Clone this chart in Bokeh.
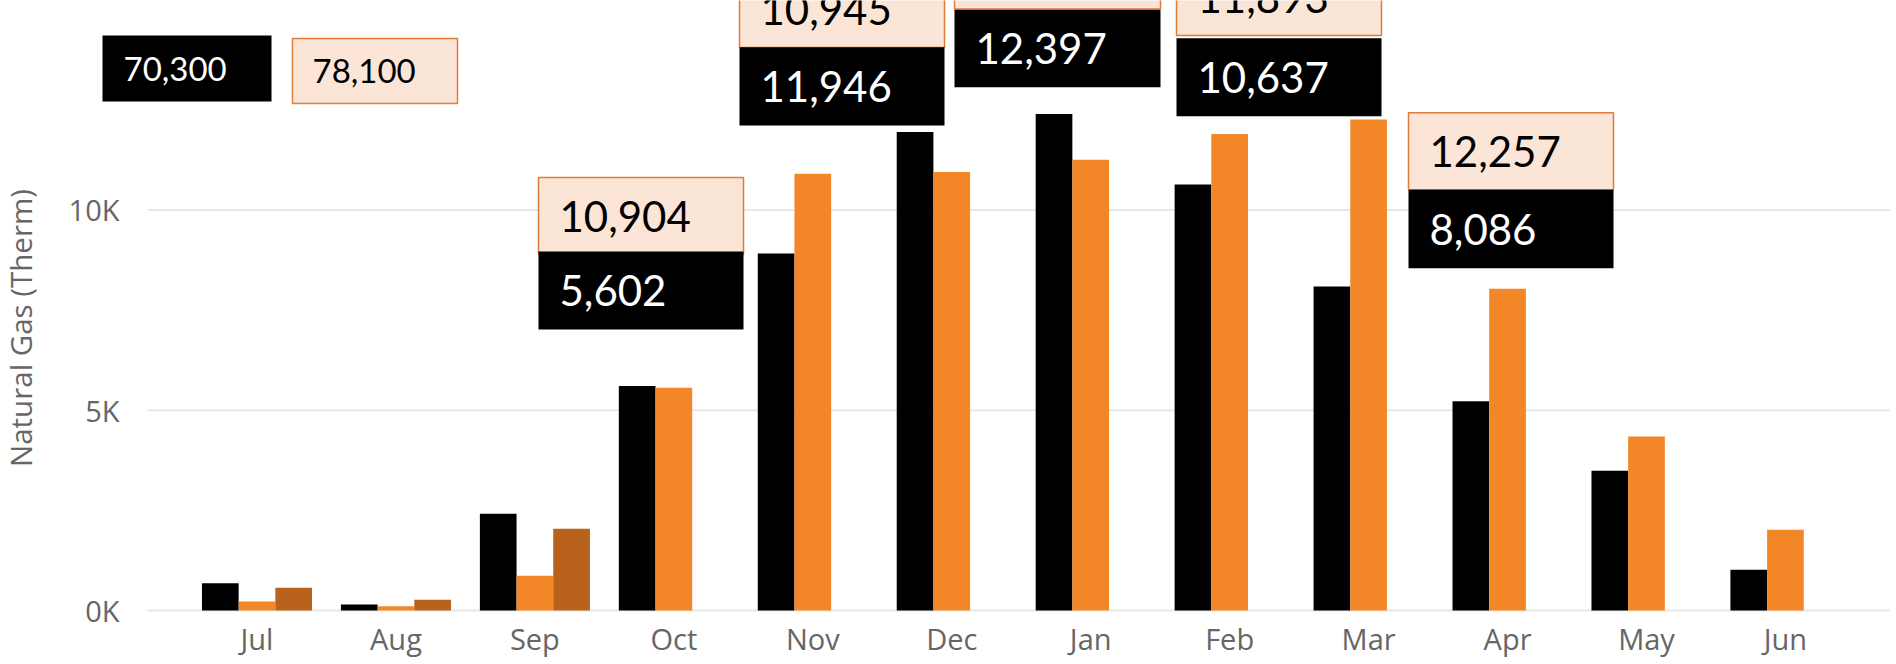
import math
from bokeh.plotting import figure
from bokeh.models import ColumnDataSource, Range1d, FixedTicker
from bokeh.transform import dodge
from bokeh.core.properties import value
from bokeh.embed import file_html
from bokeh.resources import INLINE

# ---------------- data ----------------
months = ["Jul", "Aug", "Sep", "Oct", "Nov", "Dec", "Jan", "Feb", "Mar", "Apr", "May", "Jun"]
series_black = [682, 150, 2413, 5602, 8911, 11946, 12397, 10637, 8086, 5225, 3487, 1016]
series_orange = [225, 108, 866, 5559, 10904, 10945, 11250, 11893, 12257, 8030, 4343, 2014]
series_brown = [566, 267, 2039, 0, 0, 0, 0, 0, 0, 0, 0, 0]
y_ticks = [0, 5000, 10000]
y_tick_labels = ["0K", "5K", "10K"]
y_title = "Natural Gas (Therm)"
total_black = "70,300"
total_orange = "78,100"
callout_top = ["10,904", "10,945", "", "11,893", "12,257"]
callout_bottom = ["5,602", "11,946", "12,397", "10,637", "8,086"]

# ---------------- style / layout ----------------
C_BLACK = "#000000"
C_ORANGE = "#F38627"
C_BROWN = "#B8621B"
C_PEACH = "#FBE5D6"
C_PEACH_LINE = "#E07B3A"
C_TICK = "#666666"
C_GRID = "#E8E8E8"

FIG_W, FIG_H = 1890, 662
BASE_Y = 610                         # page y of the zero line (frame spans the whole figure)
CAT0, CAT_STEP = 256.5, 138.95       # page x of first category centre, category spacing
PX_PER_UNIT = 0.04006                # vertical px per therm


def X(px):
    return (px - CAT0) / CAT_STEP


def Y(py):
    return (BASE_Y - py) / PX_PER_UNIT


XS, XE = X(0), X(FIG_W)
YB, YT = Y(FIG_H), Y(0)
BAR_W = 0.264

p = figure(width=FIG_W, height=FIG_H, x_range=Range1d(XS, XE), y_range=Range1d(YB, YT),
           output_backend="svg", toolbar_location=None,
           min_border_left=0, min_border_right=0, min_border_top=0, min_border_bottom=0)
p.outline_line_color = None
p.background_fill_color = "white"
p.border_fill_color = "white"
p.xgrid.grid_line_color = None
p.ygrid.grid_line_color = None

p.yaxis.ticker = FixedTicker(ticks=y_ticks, minor_ticks=[])
p.yaxis.major_label_overrides = {t: l for t, l in zip(y_ticks, y_tick_labels)}
p.yaxis.fixed_location = X(147)
p.xaxis.ticker = FixedTicker(ticks=list(range(len(months))), minor_ticks=[])
p.xaxis.major_label_overrides = {i: m for i, m in enumerate(months)}
p.xaxis.fixed_location = 0
for ax in (p.xaxis, p.yaxis):
    ax.axis_line_color = None
    ax.major_tick_line_color = None
    ax.minor_tick_line_color = None
    ax.major_tick_out = 0
    ax.major_tick_in = 0
    ax.major_label_text_font = "Open Sans"
    ax.major_label_text_font_size = "29px"
    ax.major_label_text_color = C_TICK
p.yaxis.major_label_standoff = 28
p.xaxis.major_label_standoff = 8

# y-axis title (rotated text)
p.text(x=[X(20)], y=[Y(327.5)], text=[y_title], angle=math.pi / 2,
       text_font=value("Open Sans"), text_font_size="29.5px", text_color=C_TICK,
       text_align="center", text_baseline="middle")

# horizontal grid lines at the y ticks, starting right of the tick labels
p.segment(x0=X(147), x1=XE, y0=y_ticks, y1=y_ticks, line_color=C_GRID, line_width=2)

src = ColumnDataSource(dict(x=[i for i, _ in enumerate(months)], black=series_black,
                            orange=series_orange, brown=series_brown))
p.vbar(x=dodge("x", -BAR_W, range=p.x_range), top="black", width=BAR_W, source=src,
       fill_color=C_BLACK, line_color=None)
p.vbar(x=dodge("x", 0, range=p.x_range), top="orange", width=BAR_W, source=src,
       fill_color=C_ORANGE, line_color=None)
p.vbar(x=dodge("x", BAR_W, range=p.x_range), top="brown", width=BAR_W, source=src,
       fill_color=C_BROWN, line_color=None)

# ---------------- callout boxes (page-pixel layout) ----------------
pair_layout = [  # left, right, peach top, peach bottom, black top, black bottom
    (538, 743, 177, 254, 251, 329),
    (739, 944, -30, 47, 46.7, 125),
    (954, 1160, -69, 8.5, 9.3, 86.7),
    (1176, 1381, -42, 35, 37.7, 115.7),
    (1408, 1613, 112.3, 189.3, 189.3, 267.7),
]
pk = dict(left=[], right=[], top=[], bottom=[])
bk = dict(left=[], right=[], top=[], bottom=[])
tt = dict(x=[], y=[], text=[], size=[])
bt = dict(x=[], y=[], text=[], size=[])
for (L, R, pt, pb, btp, bbt), top_txt, bot_txt in zip(pair_layout, callout_top, callout_bottom):
    pk["left"].append(X(L)); pk["right"].append(X(R)); pk["top"].append(Y(pt)); pk["bottom"].append(Y(pb))
    bk["left"].append(X(L)); bk["right"].append(X(R)); bk["top"].append(Y(btp)); bk["bottom"].append(Y(bbt))
    tt["x"].append(X(L + 21)); tt["y"].append(Y((pt + pb) / 2)); tt["text"].append(top_txt); tt["size"].append("42px")
    bt["x"].append(X(L + 21)); bt["y"].append(Y((btp + bbt) / 2)); bt["text"].append(bot_txt); bt["size"].append("42px")

# the two total boxes
bk["left"].append(X(102)); bk["right"].append(X(271)); bk["top"].append(Y(35)); bk["bottom"].append(Y(101))
bt["x"].append(X(123)); bt["y"].append(Y(68)); bt["text"].append(total_black); bt["size"].append("33px")
pk["left"].append(X(292)); pk["right"].append(X(457)); pk["top"].append(Y(38)); pk["bottom"].append(Y(103))
tt["x"].append(X(312)); tt["y"].append(Y(70.5)); tt["text"].append(total_orange); tt["size"].append("33px")

p.quad(source=ColumnDataSource(pk), left="left", right="right", top="top", bottom="bottom",
       fill_color=C_PEACH, line_color=C_PEACH_LINE, line_width=1.5)
p.quad(source=ColumnDataSource(bk), left="left", right="right", top="top", bottom="bottom",
       fill_color=C_BLACK, line_color=None)
p.text(source=ColumnDataSource(tt), x="x", y="y", text="text", text_font=value("Lato"),
       text_font_size="size", text_color="#000000", text_baseline="middle", text_align="left")
p.text(source=ColumnDataSource(bt), x="x", y="y", text="text", text_font=value("Lato"),
       text_font_size="size", text_color="#FFFFFF", text_baseline="middle", text_align="left")

open("out.html", "w").write(file_html(p, INLINE))
